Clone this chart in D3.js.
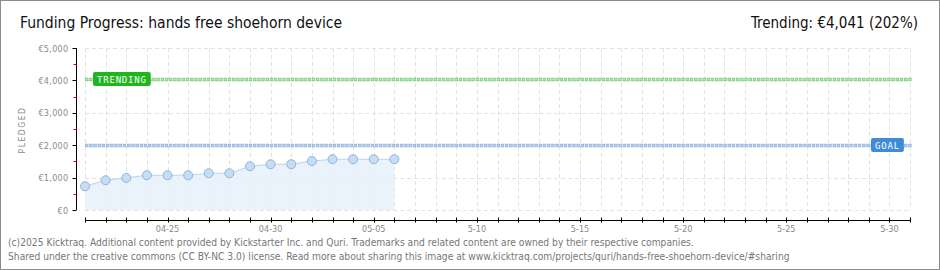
<!DOCTYPE html>
<html>
<head>
<meta charset="utf-8">
<script src="https://cdn.jsdelivr.net/npm/d3@7"></script>
<style>
  body { margin: 0; background: #fff; }
  svg { display: block; font-family: "DejaVu Sans Condensed", "DejaVu Sans", sans-serif; }
</style>
</head>
<body>
<svg id="chart" width="940" height="270"></svg>
<script>
// data
var dates = ['2025-04-21','2025-04-22','2025-04-23','2025-04-24','2025-04-25','2025-04-26','2025-04-27','2025-04-28',
             '2025-04-29','2025-04-30','2025-05-01','2025-05-02','2025-05-03','2025-05-04','2025-05-05','2025-05-06'];
var pledged = [732, 918, 990, 1072, 1072, 1072, 1134, 1134, 1350, 1412, 1412, 1510, 1567, 1567, 1567, 1567];
var goal = 2000;
var trending = 4041;
var yTicks = [0, 1000, 2000, 3000, 4000, 5000];
var xLabelDates = ['2025-04-25','2025-04-30','2025-05-05','2025-05-10','2025-05-15','2025-05-20','2025-05-25','2025-05-30'];
var xLabels = ['04-25','04-30','05-05','5-10','5-15','5-20','5-25','5-30'];
var startDate = '2025-04-21', endDate = '2025-05-31';

var parse = d3.utcParse('%Y-%m-%d');
var svg = d3.select('#chart');

// frame
svg.append('rect').attr('x', 0.5).attr('y', 0.5).attr('width', 939).attr('height', 269)
    .attr('fill', '#fff').attr('stroke', '#8c8c8c');

var x = d3.scaleUtc().domain([parse(startDate), parse(endDate)]).range([85, 910]);
var y = d3.scaleLinear().domain([0, 5000]).range([210, 48]);

var allDays = d3.utcDay.range(parse(startDate), d3.utcDay.offset(parse(endDate), 1));

// grid
var grid = svg.append('g').attr('stroke', '#e2e2e2').attr('stroke-dasharray', '4,3').attr('shape-rendering', 'crispEdges');
grid.selectAll('.vg').data(allDays).enter().append('line')
    .attr('x1', function(d) { return Math.round(x(d)) + 0.5; })
    .attr('x2', function(d) { return Math.round(x(d)) + 0.5; })
    .attr('y1', y(5000)).attr('y2', y(0));
grid.selectAll('.hg').data(yTicks).enter().append('line')
    .attr('x1', x.range()[0]).attr('x2', x.range()[1])
    .attr('y1', function(d) { return Math.round(y(d)) + 0.5; })
    .attr('y2', function(d) { return Math.round(y(d)) + 0.5; });

// area + line
var pts = dates.map(function(d, i) { return { date: parse(d), v: pledged[i] }; });
svg.append('path').datum(pts)
    .attr('d', d3.area().x(function(d) { return x(d.date); }).y0(y(0)).y1(function(d) { return y(d.v); }))
    .attr('fill', '#e6f0fb').attr('opacity', 0.85);
svg.append('path').datum(pts)
    .attr('d', d3.line().x(function(d) { return x(d.date); }).y(function(d) { return y(d.v); }))
    .attr('fill', 'none').attr('stroke', '#bcd5ef').attr('stroke-width', 1.2);

// goal & trending dotted lines
function dottedLine(val, fill, edge) {
    var yy = Math.round(y(val)) + 0.5;
    svg.append('line').attr('x1', x.range()[0]).attr('x2', x.range()[1] + 2)
        .attr('y1', yy).attr('y2', yy)
        .attr('stroke', edge).attr('stroke-width', 3.4).attr('stroke-dasharray', '3.4,0.8');
    svg.append('line').attr('x1', x.range()[0] + 0.7).attr('x2', x.range()[1] + 2)
        .attr('y1', yy).attr('y2', yy)
        .attr('stroke', fill).attr('stroke-width', 1.6).attr('stroke-dasharray', '2,2.2');
}
dottedLine(trending, '#b8e8b8', '#80d080');
dottedLine(goal, '#c0d6f2', '#93b4e0');

// points
svg.selectAll('.pt').data(pts).enter().append('circle')
    .attr('cx', function(d) { return x(d.date); })
    .attr('cy', function(d) { return y(d.v); })
    .attr('r', 4.5)
    .attr('fill', '#c6ddf6').attr('stroke', '#93b3d9').attr('stroke-width', 1);

// badges
function badge(label, cx0, val, color) {
    var yy = Math.round(y(val));
    var g = svg.append('g');
    var t = g.append('text').attr('x', cx0 + 4).attr('y', yy + 3.5)
        .attr('fill', '#fff').attr('font-size', 9).attr('letter-spacing', 0.8)
        .attr('font-family', '"DejaVu Sans Mono", monospace').text(label);
    var w = t.node().getComputedTextLength();
    g.insert('rect', 'text').attr('x', cx0).attr('y', yy - 7).attr('width', w + 8).attr('height', 14)
        .attr('rx', 2).attr('fill', color);
}
badge('TRENDING', 93, trending, '#1fb51f');
badge('GOAL', 871, goal, '#3f8ad9');

// y axis
var yAxis = svg.append('g').attr('transform', 'translate(76.5,0)');
yAxis.append('line').attr('y1', y(5000)).attr('y2', y(0)).attr('stroke', '#000');
var minor = d3.range(500, 5000, 1000);
yAxis.selectAll('.mn').data(minor).enter().append('line')
    .attr('x1', -3).attr('x2', 0)
    .attr('y1', function(d) { return Math.round(y(d)) + 0.5; })
    .attr('y2', function(d) { return Math.round(y(d)) + 0.5; })
    .attr('stroke', '#e00000');
yAxis.selectAll('.mj').data(yTicks).enter().append('line')
    .attr('x1', -4).attr('x2', 0)
    .attr('y1', function(d) { return Math.round(y(d)) + 0.5; })
    .attr('y2', function(d) { return Math.round(y(d)) + 0.5; })
    .attr('stroke', '#000');
yAxis.selectAll('.lb').data(yTicks).enter().append('text')
    .attr('x', -8).attr('y', function(d) { return y(d) + 3.5; })
    .attr('text-anchor', 'end').attr('fill', '#8a8a8a').attr('font-size', 9).attr('letter-spacing', 0.3)
    .text(function(d) { return '€' + d3.format(',')(d); });

svg.append('text').attr('transform', 'translate(25,130) rotate(-90)')
    .attr('text-anchor', 'middle').attr('fill', '#8a8a8a').attr('font-size', 8.5)
    .attr('letter-spacing', 1.5).text('PLEDGED');

// x axis
var xAxis = svg.append('g').attr('transform', 'translate(0,220.5)');
xAxis.append('line').attr('x1', x.range()[0]).attr('x2', x.range()[1]).attr('stroke', '#000');
xAxis.selectAll('.tk').data(allDays).enter().append('line')
    .attr('x1', function(d) { return Math.round(x(d)) + 0.5; })
    .attr('x2', function(d) { return Math.round(x(d)) + 0.5; })
    .attr('y1', -3).attr('y2', 2).attr('stroke', '#000');
xAxis.selectAll('.xl').data(xLabelDates).enter().append('text')
    .attr('x', function(d) { return x(parse(d)); }).attr('y', 11)
    .attr('text-anchor', 'middle').attr('fill', '#8a8a8a').attr('font-size', 9)
    .text(function(d, i) { return xLabels[i]; });

// titles
svg.append('text').attr('x', 20).attr('y', 28).attr('font-size', 15.5).attr('fill', '#111')
    .text('Funding Progress: hands free shoehorn device');
svg.append('text').attr('x', 918).attr('y', 28).attr('text-anchor', 'end').attr('font-size', 15).attr('fill', '#111')
    .text('Trending: €4,041 (202%)');

// footer
svg.append('text').attr('x', 8).attr('y', 246).attr('font-size', 10.2).attr('fill', '#777')
    .text('(c)2025 Kicktraq. Additional content provided by Kickstarter Inc. and Quri. Trademarks and related content are owned by their respective companies.');
svg.append('text').attr('x', 8).attr('y', 260).attr('font-size', 10.2).attr('fill', '#777')
    .text('Shared under the creative commons (CC BY-NC 3.0) license. Read more about sharing this image at www.kicktraq.com/projects/quri/hands-free-shoehorn-device/#sharing');
</script>
</body>
</html>
